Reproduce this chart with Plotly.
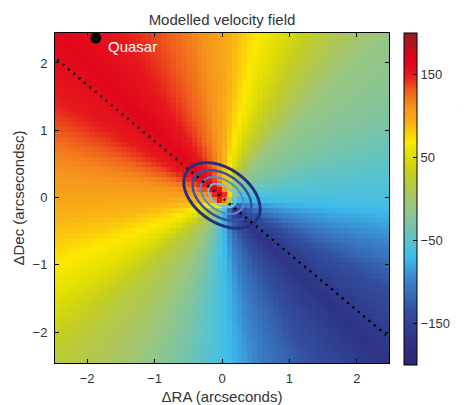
import numpy as np
import plotly.graph_objects as go

# ---- data ----
# velocity (km/s) seen along rays from the centre, by position angle (deg, from +RA axis, CCW)
ray_angle_deg = [-180, -165, -150, -135, -120, -105, -90, -75, -60, -45, -30, -15,
                 0, 15, 30, 45, 60, 75, 90, 105, 120, 135, 150, 165, 180]
ray_velocity = [100, 80, 56, 22, 0, -30, -62, -105, -140, -170, -140, -95,
                -60, -42, -25, -10, 25, 62, 100, 125, 148, 165, 148, 118, 100]
# compact central component
core_velocity = 175
core_radius = [0.0, 0.05, 0.10, 0.15, 0.20, 0.25, 0.30]
core_weight = [1.0, 0.85, 0.55, 0.3, 0.12, 0.04, 0.0]
pixel_size = 0.075
n_pix = 66

# contour ellipses (semi-major axes in arcsec)
ellipse_a = [0.63, 0.485, 0.353, 0.227]
ellipse_ratio = 0.635
ellipse_tilt_deg = -35
ellipse_center = (0.0, 0.03)
ellipse_colors = ["#25307f", "#3451a8", "#4b8fd0", "#74c3e4"]
ellipse_widths = [3, 2.5, 2, 2]

major_axis_pa_deg = 140
quasar_x, quasar_y = -1.87, 2.37

cbar_ticks = [-150, -50, 50, 150]
axis_ticks = [-2, -1, 0, 1, 2]

# ---- velocity map ----
centers = (np.arange(n_pix) - (n_pix - 1) / 2) * pixel_size
X, Y = np.meshgrid(centers, centers)
theta = np.degrees(np.arctan2(Y, X))
v_ang = np.interp(theta, ray_angle_deg, ray_velocity)
w = np.interp(np.hypot(X, Y), core_radius, core_weight)
V = (1 - w) * v_ang + w * core_velocity

vmin, vmax = -200, 200
stops = [(-200, "#2b2774"), (-175, "#2d2f82"), (-135, "#33509f"), (-95, "#3a86cc"),
         (-70, "#3cbceb"), (-50, "#58c3cf"), (-30, "#7cc4a3"), (-5, "#9ec67a"),
         (10, "#adc656"), (33, "#c5cf1e"), (55, "#e5e000"), (69, "#fde800"),
         (90, "#f9b315"), (110, "#f6951c"), (130, "#ef5f1c"), (150, "#e5181c"),
         (170, "#e0001a"), (185, "#b5141e"), (200, "#951b1f")]
colorscale = [[(v - vmin) / (vmax - vmin), c] for v, c in stops]

fig = go.Figure()
fig.add_trace(go.Heatmap(
    x=centers, y=centers, z=V, zmin=vmin, zmax=vmax, colorscale=colorscale,
    colorbar=dict(thickness=13, x=(404 - 55) / 334, xanchor="left", xpad=0, ypad=0,
                  y=0.497, yanchor="middle", len=1.006, lenmode="fraction",
                  tickvals=cbar_ticks, ticks="inside", ticklen=4, tickcolor="black",
                  outlinewidth=1, outlinecolor="black",
                  tickfont=dict(size=13, color="#333333")),
))

# ---- contour ellipses ----
g = np.linspace(-1.0, 1.0, 241)
GX, GY = np.meshgrid(g, g)
t = np.radians(ellipse_tilt_deg)
u = (GX - ellipse_center[0]) * np.cos(t) + (GY - ellipse_center[1]) * np.sin(t)
vv = -(GX - ellipse_center[0]) * np.sin(t) + (GY - ellipse_center[1]) * np.cos(t)
R = np.sqrt(u ** 2 + (vv / ellipse_ratio) ** 2)
for a, c, lw in zip(ellipse_a, ellipse_colors, ellipse_widths):
    fig.add_trace(go.Contour(
        x=g, y=g, z=R, showscale=False, hoverinfo="skip",
        contours=dict(coloring="none", start=a, end=a, size=1),
        line=dict(color=c, width=lw),
    ))

# ---- major axis line ----
xs = np.array([-2.6, 2.6])
fig.add_trace(go.Scatter(x=xs, y=np.tan(np.radians(major_axis_pa_deg)) * xs,
                         mode="lines", line=dict(color="black", width=2.5, dash="2px,5px"),
                         hoverinfo="skip"))

# ---- quasar ----
fig.add_trace(go.Scatter(x=[quasar_x], y=[quasar_y], mode="markers",
                         marker=dict(color="black", size=11), cliponaxis=False))
fig.add_annotation(x=quasar_x + 0.15, y=quasar_y - 0.12, text="Quasar", showarrow=False,
                   xanchor="left", yanchor="middle",
                   font=dict(size=15, color="white"))

fig.add_annotation(xref="paper", yref="paper", x=(472 - 55) / 334, y=0.497,
                   text="Line-of-sight velocity (km s<sup>−1</sup>)", textangle=-90,
                   showarrow=False, xanchor="center", yanchor="middle",
                   font=dict(size=15, color="#333333"))

axis_common = dict(tickvals=axis_ticks, ticks="inside", ticklen=4, tickcolor="black",
                   showline=True, linecolor="black", linewidth=1, mirror="ticks",
                   showgrid=False, zeroline=False, automargin=False,
                   tickfont=dict(size=13, color="#333333"))
fig.update_xaxes(range=[-2.475, 2.475], ticklabelstandoff=3,
                 title=dict(text="ΔRA (arcseconds)", standoff=10,
                            font=dict(size=15, color="#333333")), **axis_common)
fig.update_yaxes(range=[-2.46, 2.445], ticklabelstandoff=4,
                 title=dict(text="ΔDec (arcsecondsc)", standoff=4,
                            font=dict(size=15, color="#333333")), **axis_common)

fig.update_layout(
    width=464, height=405,
    margin=dict(l=55, r=75, t=33, b=42, autoexpand=False),
    paper_bgcolor="white", plot_bgcolor="white",
    font=dict(family="Liberation Sans, Arial, sans-serif", color="#333333"),
    showlegend=False,
    title=dict(text="Modelled velocity field", x=222 / 464, xanchor="center",
               y=1 - 20 / 405, yanchor="middle", font=dict(size=15, color="#333333")),
)

fig.write_html("out.html")
